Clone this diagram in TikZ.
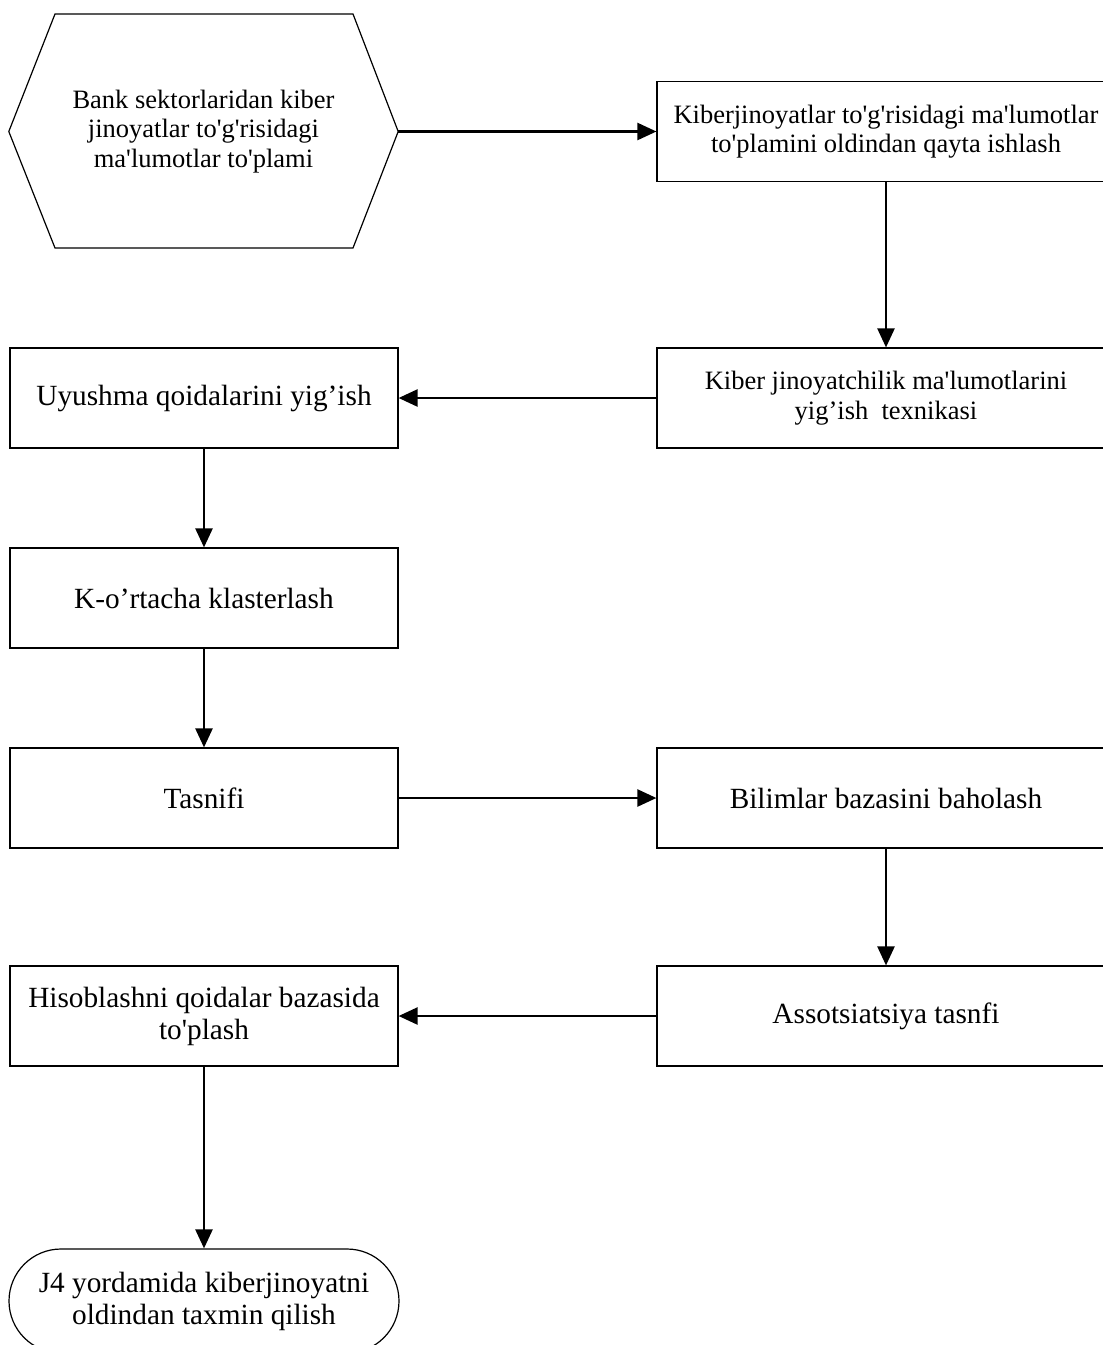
\documentclass[tikz,border=0pt]{standalone}
\usepackage{fontspec}
\setmainfont{Liberation Serif}
\usetikzlibrary{arrows.meta}
\newcommand{\sq}{\textquotesingle}
\tikzset{
  box/.style={draw, line width=1.2pt, rectangle, align=center, inner sep=0pt},
  lbox/.style={box, minimum width=388pt, minimum height=100pt},
  rbox/.style={box, minimum width=458pt, minimum height=100pt},
  big/.style={font=\fontsize{29.3}{32}\selectfont},
  small/.style={font=\fontsize{26.5}{29.5}\selectfont},
  conn/.style={line width=2.4pt, -{Triangle[length=19pt,width=17pt]}}
}
\begin{document}
\begin{tikzpicture}[x=1pt,y=-1pt]
\useasboundingbox (0,0) rectangle (1103,1345);
\clip (0,0) rectangle (1103,1345);
\fill[white] (0,0) rectangle (1103,1345);
% hexagon
\node[small, align=center, minimum width=389pt, minimum height=234pt, inner sep=0pt] (hex) at (203.5,131.5)
  {Bank sektorlaridan kiber\\jinoyatlar to\sq g\sq risidagi\\ma\sq lumotlar to\sq plami};
\draw[line width=1.2pt] (hex.west) -- (55,14) -- (353,14) -- (hex.east) -- (353,248) -- (55,248) -- cycle;
% right column
\node[rbox, small] (pre) at (886,131.5) {Kiberjinoyatlar to\sq g\sq risidagi ma\sq lumotlar\\to\sq plamini oldindan qayta ishlash};
\node[rbox, small] (tech) at (886,398) {Kiber jinoyatchilik ma\sq lumotlarini\\yig’ish\ \ texnikasi};
\node[rbox, big] (bilim) at (886,798) {Bilimlar bazasini baholash};
\node[rbox, big] (assoc) at (886,1016) {Assotsiatsiya tasnfi};
% left column
\node[lbox, big] (uyush) at (204,398) {Uyushma qoidalarini yig’ish};
\node[lbox, big] (kmean) at (204,598) {K-o’rtacha klasterlash};
\node[lbox, big] (tasn) at (204,798) {Tasnifi};
\node[lbox, big] (hisob) at (204,1016) {Hisoblashni qoidalar bazasida\\to\sq plash};
\node[box, big, rounded corners=52pt, minimum width=390pt, minimum height=104pt] (term) at (204,1301)
  {J4 yordamida kiberjinoyatni\\oldindan taxmin qilish};
% connectors
\draw[conn] (hex.east) -- (pre.west);
\draw[conn] (pre.south) -- (tech.north);
\draw[conn] (tech.west) -- (uyush.east);
\draw[conn] (uyush.south) -- (kmean.north);
\draw[conn] (kmean.south) -- (tasn.north);
\draw[conn] (tasn.east) -- (bilim.west);
\draw[conn] (bilim.south) -- (assoc.north);
\draw[conn] (assoc.west) -- (hisob.east);
\draw[conn] (hisob.south) -- (term.north);
\end{tikzpicture}
\end{document}
